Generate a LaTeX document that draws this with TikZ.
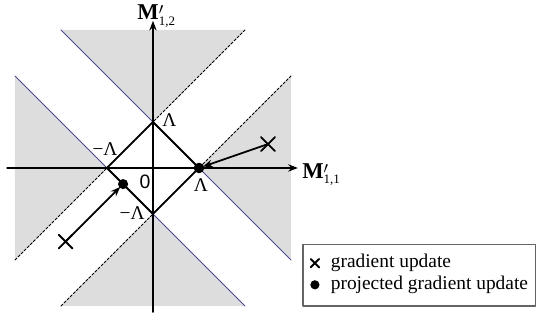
\documentclass[tikz,border=0pt]{standalone}
\usepackage{fontspec}
\setmainfont{Liberation Serif}
\newfontfamily\digitfont{Liberation Sans}
\usetikzlibrary{arrows.meta,shapes.misc,positioning}
\definecolor{shade}{RGB}{221,221,221}
\definecolor{ridge}{RGB}{75,75,150}
\definecolor{frame}{RGB}{100,100,100}
\newcommand{\mlabel}[1]{\textbf{M}\rlap{\raisebox{-2.2pt}{$'$}}\raisebox{-3.5pt}{\fontsize{8}{9}\selectfont #1}}
\begin{document}
\begin{tikzpicture}[
    line cap=round,
    line join=round,
    font=\fontsize{12}{14}\selectfont,
    region/.style={fill=shade},
    kink/.style={line width=0.6pt, dash pattern=on 1.6pt off 1.1pt},
    edge/.style={ridge, line width=0.6pt},
    axis/.style={line width=1.1pt, -{Stealth[length=6pt,width=4.5pt]}},
    update/.style={line width=1.1pt, -{Stealth[length=6pt,width=4.5pt]}, shorten >=2.5pt},
    grad/.style={cross out, draw, line width=1.1pt, minimum size=7.5pt, inner sep=0pt},
    lbl/.style={inner sep=0pt, anchor=base},
    axislbl/.style={inner sep=0pt, anchor=base west, font=\fontsize{14}{16}\selectfont}
]
\useasboundingbox (-3.326,-3.326) rectangle (8.348,3.652);

\coordinate (O) at (0,0);
\coordinate (R) at (1,0);
\coordinate (T) at (0,1);
\coordinate (L) at (-1,0);
\coordinate (B) at (0,-1);

% shaded regions
\fill[region] (T) -- (-2,3) -- (2,3) -- cycle;
\fill[region] (L) -- (-3,2) -- (-3,-2) -- cycle;
\fill[region] (R) -- (3,2) -- (3,-2) -- cycle;
\fill[region] (B) -- (-2,-3) -- (2,-3) -- cycle;

% boundary lines
\draw[kink] (-3,-2) -- (2,3);
\draw[kink] (-2,-3) -- (3,2);
\draw[edge] (-2,3) -- (3,-2);
\draw[edge] (-3,2) -- (2,-3);

% axes
\coordinate (xtip) at (3.15,0);
\coordinate (ytip) at (0,3.2);
\draw[axis] (-3.17,0) -- (xtip);
\draw[axis] (0,-3.13) -- (ytip);
\node[axislbl, xshift=2.5pt, yshift=-6.2pt] (xlbl) at (xtip) {\mlabel{1,1}};
\node[axislbl, xshift=-9.8pt, yshift=0.8pt] (ylbl) at (ytip) {\mlabel{1,2}};

% constraint set
\draw[line width=1.1pt] (R) -- (T) -- (L) -- (B) -- cycle;

\node[lbl, anchor=base west, xshift=5.6pt, yshift=-3pt] (lamT) at (T) {Λ};
\node[lbl, xshift=1.2pt, yshift=-14.8pt] (lamR) at (R) {Λ};
\node[lbl, xshift=-1.2pt, yshift=8pt] (lamL) at (L) {−Λ};
\node[lbl, anchor=base east, xshift=-5pt, yshift=-3.7pt] (lamB) at (B) {−Λ};
\node[lbl, xshift=-5pt, yshift=-12.4pt] (zero) at (O) {\digitfont 0};

% updates and projections
\coordinate (G1) at (2.5,0.52);
\coordinate (P1) at (R);
\coordinate (G2) at (-1.9,-1.6);
\coordinate (P2) at (-0.65,-0.35);
\draw[update] (G1) -- (P1);
\draw[update] (G2) -- (P2);
\node[grad] (g1) at (G1) {};
\node[grad] (g2) at (G2) {};
\fill (P1) circle (0.115);
\fill (P2) circle (0.11);

% legend
\draw[frame, line width=0.7pt] (3.26,-1.67) rectangle (8.32,-3.0);
\node[grad, line width=1.2pt, minimum size=4pt] (legx) at (3.52,-2.07) {};
\fill (3.52,-2.54) circle (0.1) coordinate (legdot);
\node[anchor=west, inner sep=0pt] (leg1) at (3.86,-2.07) {gradient update};
\node[anchor=west, inner sep=0pt] (leg2) at (3.86,-2.54) {projected gradient update};
\end{tikzpicture}
\end{document}
